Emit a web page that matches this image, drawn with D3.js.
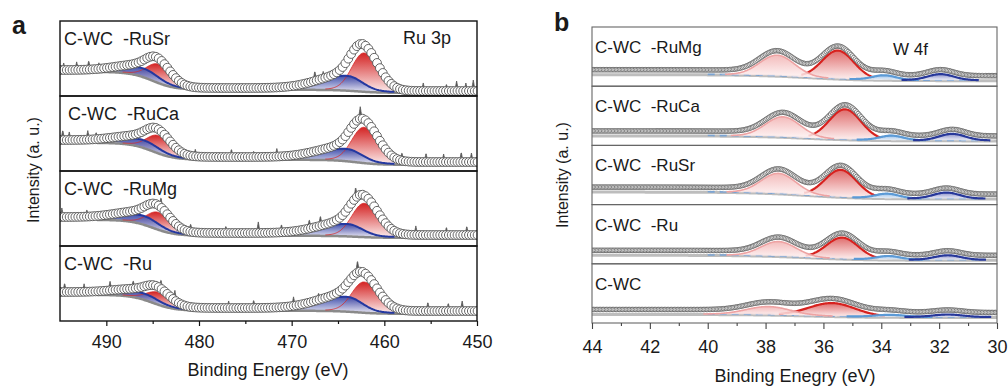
<!DOCTYPE html>
<html>
<meta charset="utf-8">
<head>
<style>
body { margin: 0; background: #fff; }
text { font-family: Arial, "Liberation Sans", sans-serif; fill: #1a1a1a; }
.lab { white-space: pre; }
</style>
</head>
<body>
<svg width="1008" height="389"></svg>
<script src="https://cdn.jsdelivr.net/npm/d3@7"></script>
<script>

// ---------- panel a : Ru 3p ----------
var ruSamples = ["C-WC  -RuSr", "C-WC  -RuCa", "C-WC  -RuMg", "C-WC  -Ru"];
// components: oxide 3p1/2, metal 3p1/2, oxide 3p3/2, metal 3p3/2
var ruKinds   = ["blueA", "redA", "blueA", "redA"];
var ruCenters = [485.9, 484.4, 464.0, 462.2];
var ruSigL    = [2.6, 1.2, 3.0, 1.3];
var ruSigR    = [1.6, 1.4, 1.6, 1.6];
var ruHeights = [
  [8, 18, 14, 38],
  [7, 17, 11.5, 35],
  [8, 16.6, 11.6, 33],
  [5.5, 11.6, 14, 30]
];
var ruBg = [[25, 7, 4], [29, 12, 7], [27, 11, 9], [27, 11, 8]];   // left, middle, right
var ruLift = [1, 2, 2, 2];   // measured points sit a little above the fit background
var ruSteps = [485, 463];
var ruSpikes = [
  [[494.6, 7], [493.2, 8], [491.9, 9], [490.8, 6], [467.5, 10], [466.6, 7], [455.8, 8], [453.3, 7], [452.2, 10], [451.2, 8], [450.4, 11]],
  [[494.7, 10], [494.0, 8], [492.0, 9], [491.1, 7], [483.3, 8], [480.4, 7], [476.5, 8], [474.1, 6], [471.6, 8], [462.6, 12], [458.1, 8], [455.5, 9], [453.6, 8], [451.7, 10], [450.6, 9]],
  [[494.8, 9], [492.1, 7], [484.1, 10], [480.9, 8], [477.1, 7], [473.6, 11], [471.1, 8], [468.1, 9], [466.9, 10], [463.1, 11], [456.6, 9], [453.3, 8], [451.1, 9]],
  [[494.5, 9], [492.4, 8], [489.6, 9], [487.1, 8], [484.1, 9], [482.6, 10], [476.8, 7], [474.1, 8], [469.8, 9], [467.1, 7], [462.9, 12], [455.3, 9], [453.1, 8], [451.6, 10]]
];
var ruTicks = [490, 480, 470, 460, 450];
var ruMinor = [485, 475, 465, 455];

// ---------- panel b : W 4f ----------
var wSamples = ["C-WC  -RuMg", "C-WC  -RuCa", "C-WC  -RuSr", "C-WC  -Ru", "C-WC"];
// components: WO3 4f5/2, WO3 4f7/2, W-C 4f5/2, W-C 4f7/2
var wKinds = ["pinkB", "redB", "lblueB", "dblueB"];
var wCenters = [
  [37.6, 35.5, 33.9, 31.95],
  [37.4, 35.25, 33.65, 31.55],
  [37.55, 35.4, 33.8, 31.75],
  [37.55, 35.35, 33.75, 31.7],
  [37.9, 35.7, 33.7, 31.7]
];
var wSigma = [
  [0.6, 0.55, 0.4, 0.45],
  [0.6, 0.55, 0.4, 0.45],
  [0.6, 0.55, 0.4, 0.45],
  [0.6, 0.55, 0.4, 0.45],
  [0.75, 0.8, 0.5, 0.5]
];
var wHeights = [
  [20.5, 28, 4.5, 6],
  [20, 30, 4.5, 6.5],
  [20, 27, 4.5, 6],
  [14.5, 21, 3.5, 4.5],
  [8, 13, 2, 2.5]
];
var wBg = [[12, 6], [10, 5], [13, 6], [9, 4], [9, 6]];   // left, right
var wLift = [4.5, 4.5, 4.5, 4.5, 4.5];
var wStep = 36.5;
var wTicks = [44, 42, 40, 38, 36, 34, 32, 30];
var wMinor = [43, 41, 39, 37, 35, 33, 31];

var svg = d3.select("svg");
var defs = svg.append("defs");

function grad(id, top, bottom, op) {
  var g = defs.append("linearGradient").attr("id", id)
      .attr("x1", 0).attr("y1", 0).attr("x2", 0).attr("y2", 1);
  g.append("stop").attr("offset", "0%").attr("stop-color", top).attr("stop-opacity", op);
  g.append("stop").attr("offset", "100%").attr("stop-color", bottom).attr("stop-opacity", op);
}
grad("redA", "#d42424", "#fbeaea", 1);
grad("blueA", "#3242a6", "#e2e2f2", 0.92);
grad("pinkB", "#f1b0b0", "#fff6f6", 0.85);
grad("redB", "#dc5c5c", "#fdf0f0", 0.9);
grad("lblueB", "#8db8e6", "#eef4fb", 0.9);
grad("dblueB", "#7c82c2", "#eef0f8", 0.9);

var lineColor = { redA: "#d62a2a", blueA: "#2438a0", pinkB: "#eea3a3", redB: "#d7221f", lblueB: "#5b9ad6", dblueB: "#27389a" };

function sig(t) { return 1 / (1 + Math.exp(-t)); }
function peak(E, c, h, sl, sr) {
  var s = E > c ? sl : sr;
  return h * Math.exp(-0.5 * (E - c) * (E - c) / (s * s));
}

// ================= panel a =================
var xa = d3.scaleLinear().domain([495, 450]).range([60, 477]);
var aTop = 21, aRow = 75;

ruSamples.forEach(function(name, i) {
  var top = aTop + i * aRow, bottom = top + aRow;
  var y = d3.scaleLinear().domain([0, aRow]).range([bottom, top]);
  var b = ruBg[i];
  function bg(E) {
    return b[2] + (b[1] - b[2]) * sig((E - ruSteps[1]) / 1.2) + (b[0] - b[1]) * sig((E - ruSteps[0]) / 1.2);
  }
  function comp(k, E) { return peak(E, ruCenters[k], ruHeights[i][k], ruSigL[k], ruSigR[k]); }
  function env(E) { var s = bg(E) + ruLift[i]; for (var k = 0; k < 4; k++) s += comp(k, E); return s; }

  svg.append("clipPath").attr("id", "ca" + i).append("rect")
      .attr("x", xa(495)).attr("y", top).attr("width", xa(450) - xa(495)).attr("height", aRow);
  var g = svg.append("g").attr("clip-path", "url(#ca" + i + ")");

  // red (metal) first, blue (oxide) over it
  [1, 3, 0, 2].forEach(function(k) {
    var grid = d3.range(ruCenters[k] + 3.2 * ruSigL[k], ruCenters[k] - 3.2 * ruSigR[k], -0.1);
    var area = d3.area()
        .x(function(E) { return xa(E); })
        .y0(function(E) { return y(bg(E)); })
        .y1(function(E) { return y(bg(E) + comp(k, E)); });
    g.append("path").datum(grid).attr("d", area).attr("fill", "url(#" + ruKinds[k] + ")");
  });

  g.append("path").datum(d3.range(491, 456, -0.1))
      .attr("d", d3.line().x(function(E) { return xa(E); }).y(function(E) { return y(bg(E)) + 0.8; }))
      .attr("fill", "none").attr("stroke", "#8a8a8a").attr("stroke-width", 2.5);

  [1, 3, 0, 2].forEach(function(k) {
    var grid = d3.range(ruCenters[k] + 3.2 * ruSigL[k], ruCenters[k] - 3.2 * ruSigR[k], -0.1);
    var line = d3.line()
        .x(function(E) { return xa(E); })
        .y(function(E) { return y(bg(E) + comp(k, E)); });
    g.append("path").datum(grid).attr("d", line).attr("fill", "none")
        .attr("stroke", lineColor[ruKinds[k]]).attr("stroke-width", ruKinds[k] === "blueA" ? 2 : 0.8);
  });

  // raw spectrum noise spikes
  var sp = ruSpikes[i];
  function raw(E) {
    var s = 0;
    sp.forEach(function(p) { s += p[1] * Math.max(0, 1 - Math.abs(E - p[0]) / 0.2); });
    return s;
  }
  g.append("path").datum(d3.range(495.2, 449.8, -0.04))
      .attr("d", d3.area().x(function(E) { return xa(E); })
        .y0(function(E) { return y(env(E)); })
        .y1(function(E) { return y(env(E) + raw(E)); }))
      .attr("fill", "#555").attr("stroke", "#555").attr("stroke-width", 0.8);

  g.selectAll("circle").data(d3.range(495.2, 449.8, -0.31)).enter().append("circle")
      .attr("cx", function(E) { return xa(E); })
      .attr("cy", function(E) { return y(env(E)); })
      .attr("r", 4.4)
      .attr("fill", "#fff").attr("stroke", "#555").attr("stroke-width", 0.9);

  svg.append("rect").attr("x", xa(495)).attr("y", top).attr("width", xa(450) - xa(495)).attr("height", aRow)
      .attr("fill", "none").attr("stroke", "#111").attr("stroke-width", 1.4);

  svg.append("text").attr("class", "lab").attr("x", i === 1 ? 68 : 64).attr("y", top + 24)
      .style("font-size", "18px").text(name);
});

svg.append("text").attr("x", 403).attr("y", 44).style("font-size", "18px").text("Ru 3p");

var axA = svg.append("g").attr("transform", "translate(0," + (aTop + 4 * aRow) + ")")
    .call(d3.axisBottom(xa).tickValues(ruTicks).tickSize(5).tickPadding(9));
axA.select(".domain").remove();
axA.selectAll("text").style("font-size", "18px").style("font-family", "Arial, 'Liberation Sans', sans-serif").attr("fill", "#1a1a1a");
axA.selectAll("line").attr("stroke", "#111").attr("stroke-width", 1.2);
var axA2 = svg.append("g").attr("transform", "translate(0," + (aTop + 4 * aRow) + ")")
    .call(d3.axisBottom(xa).tickValues(ruMinor).tickSize(3).tickFormat(""));
axA2.select(".domain").remove();
axA2.selectAll("line").attr("stroke", "#111").attr("stroke-width", 1.2);

svg.append("text").attr("x", 268).attr("y", 376).attr("text-anchor", "middle")
    .style("font-size", "18px").text("Binding Energy (eV)");
svg.append("text").attr("transform", "translate(39,170) rotate(-90)").attr("text-anchor", "middle")
    .style("font-size", "16px").text("Intensity (a. u.)");
svg.append("text").attr("x", 12).attr("y", 34).style("font-size", "25px").style("font-weight", "bold").text("a");

// ================= panel b =================
var xb = d3.scaleLinear().domain([44, 30]).range([592, 997]);
var bTop = 27, bRow = 59.2;
var lineSpan = [3.0, 2.3, 3.0, 3.0];   // how far (in sigma) each fitted line is drawn

wSamples.forEach(function(name, i) {
  var top = bTop + i * bRow, bottom = top + bRow;
  var y = d3.scaleLinear().domain([0, bRow]).range([bottom, top]);
  var b = wBg[i];
  function bg(E) { return b[1] + (b[0] - b[1]) * sig((E - wStep) / 1.0); }
  function comp(k, E) { return peak(E, wCenters[i][k], wHeights[i][k], wSigma[i][k], wSigma[i][k]); }
  function env(E) { var s = bg(E) + wLift[i]; for (var k = 0; k < 4; k++) s += comp(k, E); return s; }

  svg.append("clipPath").attr("id", "cb" + i).append("rect")
      .attr("x", xb(44)).attr("y", top).attr("width", xb(30) - xb(44)).attr("height", bRow);
  var g = svg.append("g").attr("clip-path", "url(#cb" + i + ")");

  g.append("path").datum(d3.range(44.2, 29.8, -0.05))
      .attr("d", d3.line().x(function(E) { return xb(E); }).y(function(E) { return y(bg(E)) + 0.5; }))
      .attr("fill", "none").attr("stroke", "#bdbdbd").attr("stroke-width", 3);

  // W-C doublet line runs along the baseline, dashed
  g.append("path").datum(d3.range(40, 30.5, -0.05))
      .attr("d", d3.line().x(function(E) { return xb(E); }).y(function(E) { return y(bg(E) + comp(2, E)); }))
      .attr("fill", "none").attr("stroke", "#6f9fd6").attr("stroke-width", 1.6)
      .attr("stroke-dasharray", "7,5").attr("opacity", 0.85);

  // red first, then pink over it, then the two blue ones
  [1, 0, 2, 3].forEach(function(k) {
    var c = wCenters[i][k], s = wSigma[i][k];
    var grid = d3.range(c + 3.2 * s, c - 3.2 * s, -0.03);
    g.append("path").datum(grid)
        .attr("d", d3.area().x(function(E) { return xb(E); })
          .y0(function(E) { return y(bg(E)); })
          .y1(function(E) { return y(bg(E) + comp(k, E)); }))
        .attr("fill", "url(#" + wKinds[k] + ")");
    var lg = d3.range(c + lineSpan[k] * s, c - lineSpan[k] * s, -0.03);
    g.append("path").datum(lg)
        .attr("d", d3.line().x(function(E) { return xb(E); }).y(function(E) { return y(bg(E) + comp(k, E)); }))
        .attr("fill", "none").attr("stroke", lineColor[wKinds[k]])
        .attr("stroke-width", k === 0 ? 1.6 : 2.2);
  });

  g.selectAll("circle").data(d3.range(44.1, 29.9, -0.05)).enter().append("circle")
      .attr("cx", function(E) { return xb(E); })
      .attr("cy", function(E) { return y(env(E)); })
      .attr("r", 2.3)
      .attr("fill", "#fff").attr("stroke", "#666").attr("stroke-width", 0.85);

  svg.append("rect").attr("x", xb(44)).attr("y", top).attr("width", xb(30) - xb(44)).attr("height", bRow)
      .attr("fill", "none").attr("stroke", "#666").attr("stroke-width", 1.1);

  svg.append("text").attr("class", "lab").attr("x", 595).attr("y", top + 26).style("font-size", "17px").text(name);
});

svg.append("text").attr("x", 893).attr("y", 55).style("font-size", "17px").text("W 4f");

var axB = svg.append("g").attr("transform", "translate(0," + (bTop + 5 * bRow) + ")")
    .call(d3.axisBottom(xb).tickValues(wTicks).tickFormat(d3.format("d")).tickSize(6).tickPadding(11));
axB.select(".domain").remove();
axB.selectAll("text").style("font-size", "18px").style("font-family", "Arial, 'Liberation Sans', sans-serif").attr("fill", "#1a1a1a");
axB.selectAll("line").attr("stroke", "#444").attr("stroke-width", 1.1);
var axB2 = svg.append("g").attr("transform", "translate(0," + (bTop + 5 * bRow) + ")")
    .call(d3.axisBottom(xb).tickValues(wMinor).tickSize(3).tickFormat(""));
axB2.select(".domain").remove();
axB2.selectAll("line").attr("stroke", "#444").attr("stroke-width", 1.1);

svg.append("text").attr("x", 795).attr("y", 382).attr("text-anchor", "middle")
    .style("font-size", "18px").text("Binding Enegry (eV)");
svg.append("text").attr("transform", "translate(568,175) rotate(-90)").attr("text-anchor", "middle")
    .style("font-size", "16px").text("Intensity (a. u.)");
svg.append("text").attr("x", 554).attr("y", 31).style("font-size", "25px").style("font-weight", "bold").text("b");

</script>
</body>
</html>
